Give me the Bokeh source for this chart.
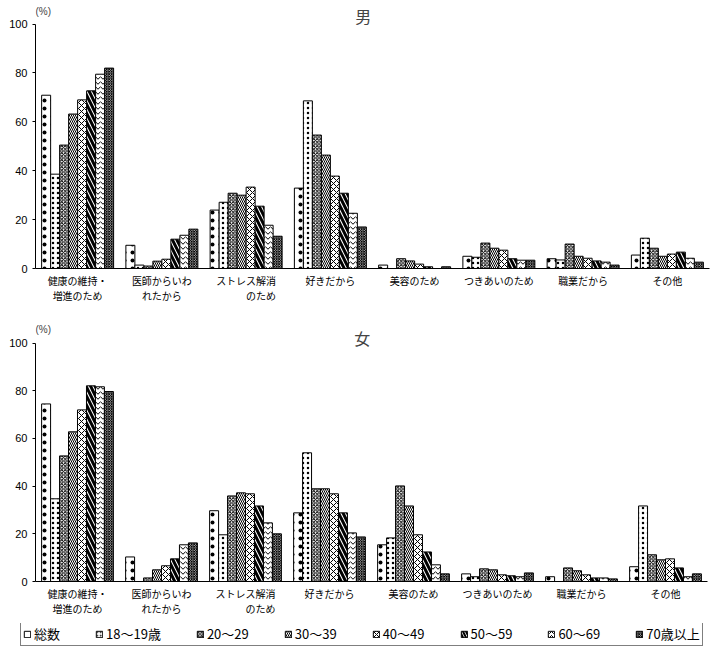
from bokeh.plotting import figure
from bokeh.models import ColumnDataSource, FactorRange, Range1d, Label, Legend, LegendItem, FixedTicker
from bokeh.transform import dodge
from bokeh.layouts import column
from bokeh.embed import file_html
from bokeh.resources import INLINE

categories = ["健康の維持・\n増進のため", "医師からいわ\nれたから", "ストレス解消\n　　　のため",
              "好きだから", "美容のため", "つきあいのため", "職業だから", "その他"]
series = ["総数", "18〜19歳", "20〜29", "30〜39", "40〜49", "50〜59", "60〜69", "70歳以上"]
y_ticks = [0, 20, 40, 60, 80, 100]

# 男
men_all   = [70.9, 9.5, 23.9, 32.9, 1.4, 5.0, 4.0, 5.5]
men_18_19 = [38.6, 1.4, 27.1, 68.6, 0.0, 4.6, 3.5, 12.4]
men_20_29 = [50.5, 1.0, 30.8, 54.6, 4.0, 10.4, 10.0, 8.3]
men_30_39 = [63.2, 3.0, 30.0, 46.4, 3.1, 8.3, 5.0, 5.0]
men_40_49 = [69.0, 3.8, 33.3, 37.8, 1.8, 7.5, 4.2, 5.9]
men_50_59 = [72.7, 12.0, 25.5, 30.8, 0.7, 4.0, 3.1, 6.7]
men_60_69 = [79.5, 13.6, 17.7, 22.6, 0.0, 3.4, 2.6, 4.2]
men_70up  = [82.0, 16.1, 13.2, 17.0, 0.7, 3.4, 1.4, 2.6]

# 女
women_all   = [74.5, 10.3, 29.7, 28.8, 15.4, 3.2, 2.0, 6.2]
women_18_19 = [34.7, 0.0, 19.6, 54.0, 18.3, 2.0, 0.0, 31.7]
women_20_29 = [52.7, 1.5, 35.9, 38.9, 40.1, 5.3, 5.7, 11.2]
women_30_39 = [62.8, 4.9, 37.2, 38.9, 31.7, 4.9, 4.5, 9.1]
women_40_49 = [72.0, 6.6, 36.8, 36.8, 19.6, 2.8, 2.8, 9.5]
women_50_59 = [82.1, 9.5, 31.7, 28.8, 12.4, 2.4, 1.5, 5.7]
women_60_69 = [81.7, 15.4, 24.6, 20.4, 7.0, 2.0, 1.5, 2.0]
women_70up  = [79.7, 16.2, 20.0, 18.7, 3.2, 3.6, 1.1, 3.2]

men = [men_all, men_18_19, men_20_29, men_30_39, men_40_49, men_50_59, men_60_69, men_70up]
women = [women_all, women_18_19, women_20_29, women_30_39, women_40_49, women_50_59, women_60_69, women_70up]

hatches = [
    dict(hatch_pattern=".", hatch_scale=8, hatch_weight=0.4),
    dict(hatch_pattern=".", hatch_scale=5, hatch_weight=0.5),
    dict(hatch_pattern="x", hatch_scale=3.5, hatch_weight=1),
    dict(hatch_pattern="\\", hatch_scale=4, hatch_weight=1),
    dict(hatch_pattern="x", hatch_scale=6, hatch_weight=1),
    dict(hatch_pattern="\\", hatch_scale=9, hatch_weight=3),
    dict(hatch_pattern="v", hatch_scale=5, hatch_weight=1),
    dict(hatch_pattern="x", hatch_scale=2.5, hatch_weight=1.2),
]
legend_hatches = [dict(h) for h in hatches]
legend_hatches[0] = dict(hatch_pattern=" ")
legend_hatches[1] = dict(hatch_pattern=".", hatch_scale=3.5, hatch_weight=0.4)
legend_hatches[4] = dict(hatch_pattern="x", hatch_scale=4, hatch_weight=1)
legend_hatches[5] = dict(hatch_pattern="\\", hatch_scale=6, hatch_weight=2)
legend_hatches[6] = dict(hatch_pattern="v", hatch_scale=4, hatch_weight=1)

CJK = "Noto Sans CJK JP"
BAR_W = 0.1068


def make_source(data):
    src = {"cat": categories}
    for i, s in enumerate(data):
        src["s%d" % i] = s
    return ColumnDataSource(src)


def add_bars(p, source, styles):
    rs = []
    for i in range(8):
        rs.append(p.vbar(x=dodge("cat", (i - 3.5) * BAR_W, range=p.x_range), top="s%d" % i,
                         width=BAR_W, source=source, fill_color="white", line_color="black",
                         line_width=1, hatch_color="black", **styles[i]))
    return rs


def make_chart(data, title, left, fh, ytop, bottom, title_y, pct_y):
    source = make_source(data)
    p = figure(x_range=FactorRange(*categories), y_range=Range1d(0, ytop),
               frame_width=707 - left, frame_height=fh,
               min_border_left=left, min_border_right=7, min_border_top=0,
               min_border_bottom=bottom, output_backend="svg", toolbar_location=None)
    add_bars(p, source, hatches)
    p.outline_line_color = None
    p.xgrid.grid_line_color = None
    p.ygrid.grid_line_color = None
    p.background_fill_color = "white"
    p.border_fill_color = "white"
    p.yaxis.ticker = FixedTicker(ticks=y_ticks)
    p.yaxis.bounds = (0, 100)
    p.yaxis.minor_tick_line_color = None
    p.yaxis.major_tick_in = 0
    p.yaxis.major_tick_out = 3
    p.yaxis.major_label_standoff = 5
    p.yaxis.major_label_text_font = "Liberation Sans"
    p.yaxis.major_label_text_font_size = "11px"
    p.yaxis.major_label_text_color = "black"
    p.yaxis.axis_line_color = "black"
    p.xaxis.major_tick_line_color = None
    p.xaxis.minor_tick_line_color = None
    p.xaxis.major_label_standoff = -2
    p.xaxis.major_label_text_font = CJK
    p.xaxis.major_label_text_font_size = "10px"
    p.xaxis.major_label_text_line_height = 1.0
    p.xaxis.major_label_text_color = "black"
    p.xaxis.axis_line_color = "black"
    p.add_layout(Label(x=3.89, y=title_y, text=title,
                       text_font=CJK, text_font_size="16px", text_align="center",
                       text_baseline="middle"))
    p.add_layout(Label(x=0.0, y=pct_y, text="(%)", text_font="Liberation Sans",
                       text_font_size="10px", text_align="left", text_baseline="middle"))
    return p, source


p1, _ = make_chart(men, "男", 33, 268, 109.66, 42, 103.4, 105.0)
p2, women_src = make_chart(women, "女", 35, 271, 113.7, 42, 102.2, 105.7)

# legend strip (its bars lie outside the visible y range; only the legend shows)
p3 = figure(x_range=p2.x_range, y_range=Range1d(200, 201), frame_width=714, frame_height=24,
            min_border=0, x_axis_type=None, y_axis_type=None,
            output_backend="svg", toolbar_location=None)
p3.outline_line_color = None
p3.xgrid.grid_line_color = None
p3.ygrid.grid_line_color = None
p3.background_fill_color = "white"
p3.border_fill_color = "white"
leg_rs = add_bars(p3, women_src, legend_hatches)
legend = Legend(items=[LegendItem(label=s, renderers=[r], index=0) for s, r in zip(series, leg_rs)],
                orientation="horizontal", location=(20, 1),
                label_text_font=CJK, label_text_font_size="13px", label_text_color="black",
                glyph_width=8, glyph_height=8, label_standoff=3, spacing=35,
                label_height=14, padding=2, margin=0,
                border_line_color="black", border_line_width=1,
                background_fill_color="white", background_fill_alpha=1)
p3.add_layout(legend, "center")

layout = column(p1, p2, p3, spacing=0)
open("out.html", "w").write(file_html(layout, INLINE))
